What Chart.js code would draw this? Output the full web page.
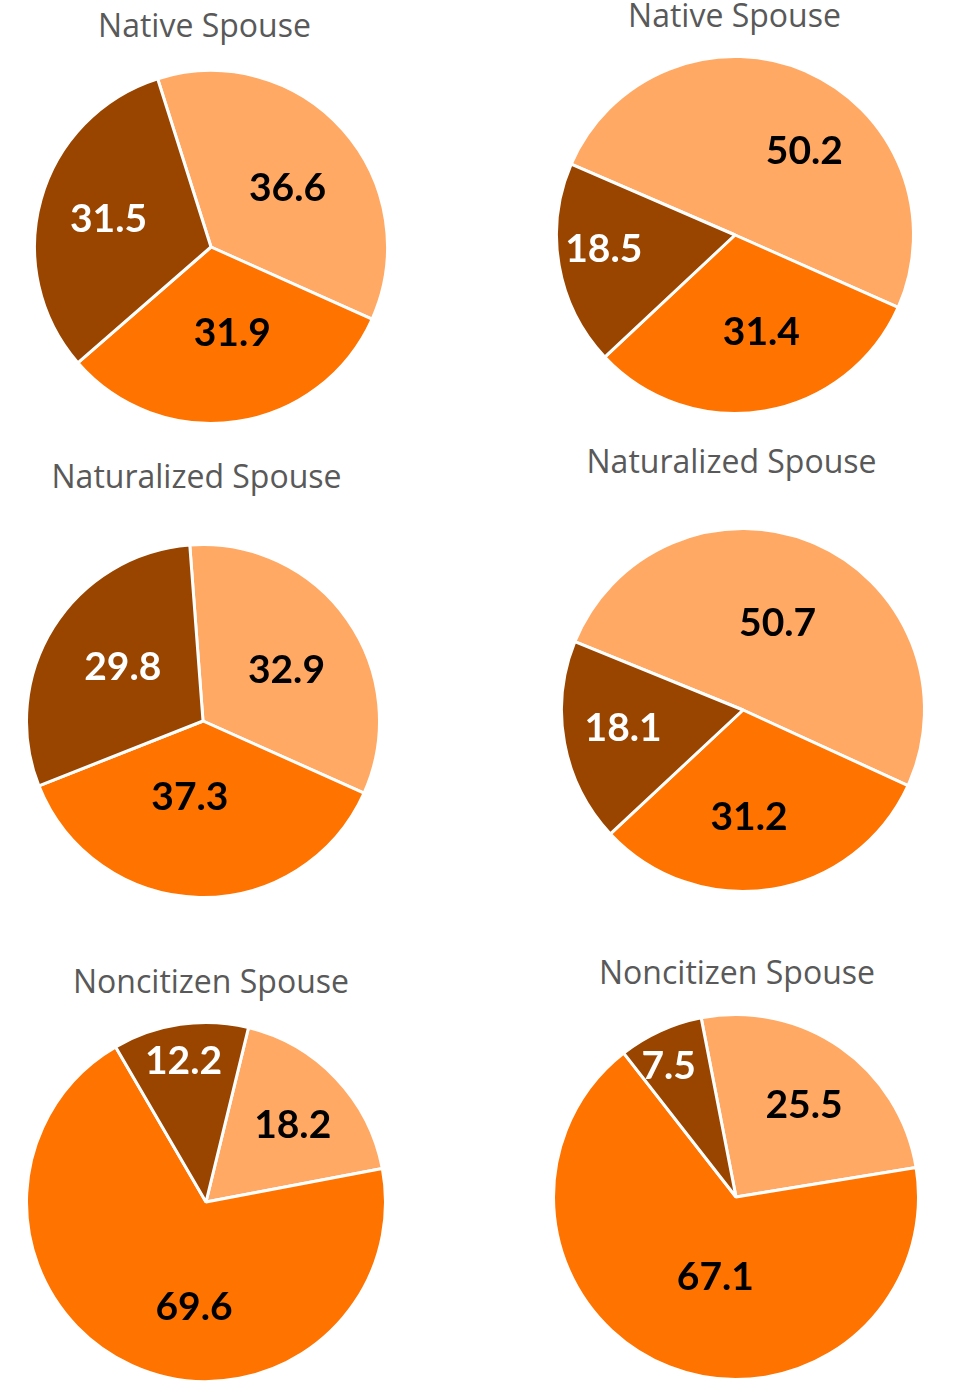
<!DOCTYPE html>
<html>
<head>
<meta charset="utf-8">
<script src="https://cdn.jsdelivr.net/npm/chart.js@4"></script>
<style>
  html, body { margin: 0; padding: 0; background: #fff; }
  body { width: 969px; height: 1399px; position: relative; overflow: hidden; }
  .title {
    position: absolute; width: 400px; text-align: center;
    font-family: "Open Sans", sans-serif; font-size: 32px; line-height: 32px;
    color: #595959; white-space: nowrap;
  }
  canvas { position: absolute; }
</style>
</head>
<body>
<script>
// data
const categories = ["Group 1", "Group 2", "Group 3"];
const titles = ["Native Spouse", "Native Spouse", "Naturalized Spouse", "Naturalized Spouse", "Noncitizen Spouse", "Noncitizen Spouse"];
const nativeLeft = [36.6, 31.9, 31.5];
const nativeRight = [50.2, 31.4, 18.5];
const naturalizedLeft = [32.9, 37.3, 29.8];
const naturalizedRight = [50.7, 31.2, 18.1];
const noncitizenLeft = [18.2, 69.6, 12.2];
const noncitizenRight = [25.5, 67.1, 7.5];
const seriesList = [nativeLeft, nativeRight, naturalizedLeft, naturalizedRight, noncitizenLeft, noncitizenRight];

// styling / placement
const colors = ["#FFA964", "#FF7300", "#994500"];
const labelColors = ["#000000", "#000000", "#FFFFFF"];
const layout = [
  { cx: 210.5, cy: 247, r: 175, tx: 204.5, tb: 37, rot: -17.6, nudge: [[4, 5], [7, -11], [-9, -3]] },
  { cx: 734.5, cy: 234.5, r: 177, tx: 734.5, tb: 27, rot: -66.6, nudge: [[30, 5], [10, -1], [-12, -8]] },
  { cx: 202.5, cy: 721, r: 175, tx: 196.5, tb: 488, rot: -4.3, nudge: [[4, 4], [-11, -22], [2, -4]] },
  { cx: 742.5, cy: 709.5, r: 180, tx: 731.5, tb: 473, rot: -67.9, nudge: [[-5, 4], [-10, 7], [2, -6]] },
  { cx: 206, cy: 1202, r: 178, tx: 211, tb: 993, rot: 13.7, nudge: [[-2, 6], [29, 14], [-3, -8]] },
  { cx: 735.5, cy: 1197, r: 181, tx: 737, tb: 984, rot: -11, nudge: [[6, -4], [16, -15], [-6, 3]] }
];

const LABEL_SIZE = 39;

const valueLabels = {
  id: "valueLabels",
  afterDatasetsDraw(chart, args, opts) {
    const ctx = chart.ctx;
    const meta = chart.getDatasetMeta(0);
    const data = chart.data.datasets[0].data;
    const total = data.reduce((a, b) => a + b, 0);
    const nudge = opts.nudge || [];
    ctx.save();
    ctx.font = "700 " + LABEL_SIZE + "px Lato, sans-serif";
    ctx.textAlign = "center";
    ctx.textBaseline = "alphabetic";
    meta.data.forEach((arc, i) => {
      const p = arc.getProps(["x", "y", "startAngle", "endAngle", "outerRadius"], true);
      const mid = (p.startAngle + p.endAngle) / 2;
      const pct = data[i] / total * 100;
      // smaller slices push the label outward
      const f = Math.max(0.55, 0.9 - 0.012 * pct);
      const n = nudge[i] || [0, 0];
      const x = p.x + Math.cos(mid) * p.outerRadius * f + n[0];
      const y = p.y + Math.sin(mid) * p.outerRadius * f + n[1];
      ctx.fillStyle = labelColors[i];
      ctx.fillText(data[i].toFixed(1), x, y + LABEL_SIZE * 0.36);
    });
    ctx.restore();
  }
};

seriesList.forEach((values, k) => {
  const L = layout[k];
  const t = document.createElement("div");
  t.className = "title";
  t.textContent = titles[k];
  t.style.left = (L.tx - 200) + "px";
  t.style.top = (L.tb - 28.4) + "px";
  document.body.appendChild(t);

  const size = Math.round(2 * L.r + 12);
  const c = document.createElement("canvas");
  c.width = size;
  c.height = size;
  c.style.width = size + "px";
  c.style.height = size + "px";
  c.style.left = (L.cx - size / 2) + "px";
  c.style.top = (L.cy - size / 2) + "px";
  document.body.appendChild(c);

  new Chart(c.getContext("2d"), {
    type: "pie",
    data: {
      labels: categories,
      datasets: [{
        data: values,
        backgroundColor: colors,
        borderColor: "#FFFFFF",
        borderWidth: 3,
        hoverOffset: 0,
        radius: L.r + 1.5
      }]
    },
    options: {
      responsive: false,
      animation: false,
      rotation: L.rot,
      layout: { padding: 0 },
      plugins: {
        legend: { display: false },
        tooltip: { enabled: false },
        valueLabels: { nudge: L.nudge }
      },
      events: []
    },
    plugins: [valueLabels]
  });
});
</script>
</body>
</html>
